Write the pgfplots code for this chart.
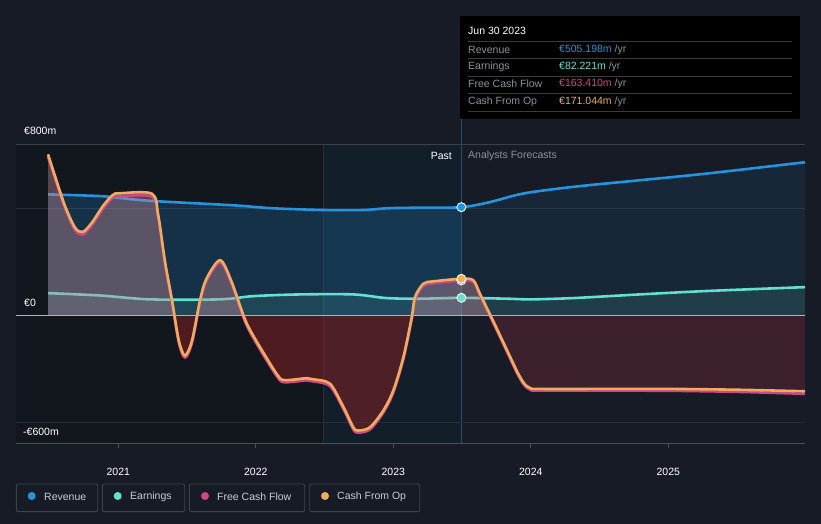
\documentclass[border=0pt]{standalone}
\usepackage{fontspec}
\setmainfont{Liberation Sans}
\usepackage{pgfplots}
\usepackage{pgfplotstable}
\pgfplotsset{compat=1.18}

\definecolor{pagebg}{HTML}{161B25}
\definecolor{pastbg}{HTML}{12161D}
\definecolor{hiblue}{HTML}{1E6AA8}
\definecolor{revblue}{HTML}{2394DF}
\definecolor{earnteal}{HTML}{62E0D0}
\definecolor{fcfpink}{HTML}{D0468A}
\definecolor{cfoorange}{HTML}{EFAC5C}
\definecolor{cashpos}{HTML}{C48A98}
\definecolor{cashneg}{HTML}{8A2024}
\definecolor{cashnegf}{HTML}{7A2A3C}
\definecolor{gridc}{HTML}{272D37}
\definecolor{topline}{HTML}{3B4049}
\definecolor{zeroline}{HTML}{B0B4BA}
\definecolor{axisgrey}{HTML}{4A5059}
\definecolor{ttgrey}{HTML}{8B9099}
\definecolor{sepgrey}{HTML}{3A3A3A}
\definecolor{legborder}{HTML}{3D424B}
\definecolor{legtext}{HTML}{C9CDD3}
\definecolor{divline}{HTML}{2B4D6B}

\newcommand{\fs}{\fontsize{10.5}{12}\selectfont}

% cash from operations, EUR m
\pgfplotstableread{
x y
2020.489 752
2020.54 650
2020.61 515
2020.685 410
2020.743 390
2020.81 435
2020.89 512
2020.96 562
2021.01 570
2021.245 568
2021.29 470
2021.34 250
2021.391 70
2021.44 -117
2021.485 -187
2021.536 -117
2021.594 70
2021.64 170
2021.74 258
2021.82 164
2021.91 0
2021.96 -70
2022.06 -179
2022.16 -280
2022.21 -302
2022.37 -293
2022.42 -298
2022.54 -319
2022.638 -428
2022.709 -522
2022.745 -537
2022.83 -522
2022.927 -444
2023.0 -350
2023.073 -195
2023.134 -8
2023.158 86
2023.218 148
2023.291 159
2023.495 171
2023.582 164
2023.63 101
2023.703 5
2023.776 -93
2023.873 -225
2023.9 -262
2023.94 -307
2023.97 -330
2024.0 -340
2024.06 -343
2024.6 -343
2025.036 -343
2025.521 -347
2025.994 -354
}\cfotab

% free cash flow, EUR m
\pgfplotstableread{
x y
2020.489 740
2020.54 640
2020.61 505
2020.685 398
2020.743 378
2020.81 423
2020.89 500
2020.96 550
2021.01 556
2021.245 554
2021.29 458
2021.34 238
2021.391 58
2021.44 -128
2021.485 -197
2021.536 -128
2021.594 60
2021.64 160
2021.74 248
2021.82 154
2021.91 -10
2021.96 -80
2022.06 -190
2022.16 -290
2022.21 -312
2022.37 -303
2022.42 -308
2022.54 -330
2022.638 -438
2022.709 -532
2022.745 -547
2022.83 -532
2022.927 -454
2023.0 -360
2023.073 -205
2023.134 -18
2023.158 76
2023.218 138
2023.291 150
2023.495 163
2023.582 156
2023.63 93
2023.703 -3
2023.776 -101
2023.873 -233
2023.9 -270
2023.94 -315
2023.97 -338
2024.0 -348
2024.06 -351
2024.6 -351
2025.036 -352
2025.521 -357
2025.994 -366
}\fcftab

\begin{document}
\begin{tikzpicture}
% background, in pixel coordinates (y down)
\begin{scope}[x=1pt,y=-1pt,yshift=524pt]
  \fill[pagebg] (0,0) rectangle (821,524);
  \fill[pastbg] (16,144) rectangle (461,444);
  \fill[hiblue, opacity=0.10] (323,144) rectangle (461,444);
  \draw[gridc, line width=0.8pt] (323,144) -- (323,444);
  \draw[divline, line width=1pt] (461,119) -- (461,444);
\end{scope}

\begin{axis}[
  at={(16pt,80pt)}, anchor=south west,
  width=789pt, height=300pt, scale only axis,
  xmin=2020.256, xmax=2025.994, ymin=-600, ymax=800,
  axis x line=bottom, axis y line=none,
  x axis line style={draw=axisgrey, line width=1pt, -},
  xtick={2021,2022,2023,2024,2025},
  xticklabels={2021,2022,2023,2024,2025},
  tick align=outside, major tick length=4pt,
  xtick style={draw=axisgrey, line width=0.8pt},
  xticklabel style={text=white, font=\fs, yshift=-17pt},
  ytick=\empty,
  clip=false,
]
% gridlines
\draw[topline, line width=1pt] (axis cs:2020.256,800) -- (axis cs:2025.994,800);
\draw[gridc, line width=1pt] (axis cs:2020.256,500) -- (axis cs:2025.994,500);
\draw[gridc, line width=1pt] (axis cs:2020.256,-500) -- (axis cs:2025.994,-500);
\draw[axisgrey, line width=1pt] (axis cs:2020.256,-600) -- (axis cs:2025.994,-600);
\draw[axisgrey, line width=0.8pt] (axis cs:2021,-600) -- (axis cs:2021,-619);
\draw[axisgrey, line width=0.8pt] (axis cs:2022,-600) -- (axis cs:2022,-619);
\draw[axisgrey, line width=0.8pt] (axis cs:2023,-600) -- (axis cs:2023,-619);
\draw[axisgrey, line width=0.8pt] (axis cs:2024,-600) -- (axis cs:2024,-619);
\draw[axisgrey, line width=0.8pt] (axis cs:2025,-600) -- (axis cs:2025,-619);

% revenue fill
\addplot[draw=none, fill=revblue, fill opacity=0.22, smooth] coordinates {
  (2020.489,565) (2020.867,557) (2021.013,548) (2021.252,534) (2021.834,514)
  (2022.125,500) (2022.489,492) (2022.78,492) (2022.955,500) (2023.194,503) (2023.495,505)
} \closedcycle;
\addplot[draw=none, fill=revblue, fill opacity=0.10, smooth] coordinates {
  (2023.495,505) (2023.703,529) (2023.946,569) (2024.307,600) (2024.794,631)
  (2025.279,662) (2025.994,715)
} \closedcycle;
% earnings fill
\addplot[draw=none, fill=earnteal, fill opacity=0.12, smooth] coordinates {
  (2020.489,104) (2020.867,93) (2021.23,75) (2021.74,75) (2021.98,90) (2022.32,98)
  (2022.71,98) (2022.95,81) (2023.19,78) (2023.495,82) (2023.83,78) (2024.0,75)
  (2024.31,81) (2024.79,98) (2025.28,114) (2025.994,132)
} \closedcycle;

% lines revenue, earnings
\addplot[revblue, line width=2.6pt, smooth] coordinates {
  (2020.489,565) (2020.867,557) (2021.013,548) (2021.252,534) (2021.834,514)
  (2022.125,500) (2022.489,492) (2022.78,492) (2022.955,500) (2023.194,503) (2023.495,505)
  (2023.703,529) (2023.946,569) (2024.307,600) (2024.794,631)
  (2025.279,662) (2025.994,715)
};
\addplot[earnteal, line width=2.6pt, smooth] coordinates {
  (2020.489,104) (2020.867,93) (2021.23,75) (2021.74,75) (2021.98,90) (2022.32,98)
  (2022.71,98) (2022.95,81) (2023.19,78) (2023.495,82) (2023.83,78) (2024.0,75)
  (2024.31,81) (2024.79,98) (2025.28,114) (2025.994,132)
};

% cash fills: positive part, negative part (past / forecast)
\begin{scope}
  \clip (axis cs:2020.2,0) rectangle (axis cs:2026.1,820);
  \addplot[draw=none, fill=cashpos, fill opacity=0.40, smooth] table {\cfotab} \closedcycle;
\end{scope}
\begin{scope}
  \clip (axis cs:2020.2,-620) rectangle (axis cs:2023.495,0);
  \addplot[draw=none, fill=cashneg, fill opacity=0.5, smooth] table {\cfotab} \closedcycle;
\end{scope}
\begin{scope}
  \clip (axis cs:2023.495,-620) rectangle (axis cs:2026.1,0);
  \addplot[draw=none, fill=cashnegf, fill opacity=0.38, smooth] table {\cfotab} \closedcycle;
\end{scope}

\addplot[fcfpink, line width=2.6pt, smooth] table {\fcftab};
\addplot[cfoorange, line width=2.6pt, smooth] table {\cfotab};

\draw[zeroline, line width=1.3pt] (axis cs:2020.256,0) -- (axis cs:2025.994,0);

% markers
\addplot[only marks, mark=*, mark size=4.5pt, mark options={fill=revblue, draw=white, line width=0.9pt}] coordinates {(2023.495,505.198)};
\addplot[only marks, mark=*, mark size=4.5pt, mark options={fill=earnteal, draw=white, line width=0.9pt}] coordinates {(2023.495,82.221)};
\addplot[only marks, mark=*, mark size=4.5pt, mark options={fill=fcfpink, draw=white, line width=0.9pt}] coordinates {(2023.495,163.41)};
\addplot[only marks, mark=*, mark size=4.5pt, mark options={fill=cfoorange, draw=white, line width=0.9pt}] coordinates {(2023.495,171.044)};
\end{axis}

% overlays in pixel coordinates
\begin{scope}[x=1pt,y=-1pt,yshift=524pt]
  % y labels
  \node[anchor=west, text=white, font=\fs, inner sep=0] at (24,131) {€800m};
  \node[anchor=west, text=white, font=\fs, inner sep=0] at (24,303) {€0};
  \node[anchor=west, text=white, font=\fs, inner sep=0] at (23,432) {-€600m};
  % past / forecast
  \node[anchor=east, text=white, font=\fs, inner sep=0] at (452,156) {Past};
  \node[anchor=west, text=ttgrey, font=\fs, inner sep=0] at (468,156) {Analysts Forecasts};
  % tooltip
  \fill[black] (460,16) rectangle (800,119);
  \node[anchor=west, text=white, font=\fs, inner sep=0] at (468,31) {Jun 30 2023};
  \foreach \yy in {41.7,58.3,76.3,93.3,111} {
    \draw[sepgrey, line width=0.8pt] (468,\yy) -- (792,\yy);
  }
  \node[anchor=west, text=ttgrey, font=\fs, inner sep=0] at (468,49.5) {Revenue};
  \node[anchor=west, text=ttgrey, font=\fs, inner sep=0] at (468,66.5) {Earnings};
  \node[anchor=west, text=ttgrey, font=\fs, inner sep=0] at (468,84) {Free Cash Flow};
  \node[anchor=west, text=ttgrey, font=\fs, inner sep=0] at (468,101.5) {Cash From Op};
  \node[anchor=west, font=\fs, inner sep=0] at (559,49.5) {\textcolor{revblue}{€505.198m} \textcolor{ttgrey}{/yr}};
  \node[anchor=west, font=\fs, inner sep=0] at (559,66.5) {\textcolor{earnteal}{€82.221m} \textcolor{ttgrey}{/yr}};
  \node[anchor=west, font=\fs, inner sep=0] at (559,84) {\textcolor{fcfpink}{€163.410m} \textcolor{ttgrey}{/yr}};
  \node[anchor=west, font=\fs, inner sep=0] at (559,101.5) {\textcolor{cfoorange}{€171.044m} \textcolor{ttgrey}{/yr}};
  % legend
  \draw[legborder, line width=0.9pt, rounded corners=2pt] (16.3,484) rectangle (97.7,511.7);
  \draw[legborder, line width=0.9pt, rounded corners=2pt] (102.3,484) rectangle (184.7,511.7);
  \draw[legborder, line width=0.9pt, rounded corners=2pt] (189.3,484) rectangle (304.7,511.7);
  \draw[legborder, line width=0.9pt, rounded corners=2pt] (309.7,484) rectangle (419.7,511.7);
  \fill[revblue] (31.7,496) circle (4pt);
  \fill[earnteal] (117.7,496) circle (4pt);
  \fill[fcfpink] (205,496) circle (4pt);
  \fill[cfoorange] (325,496) circle (4pt);
  \node[anchor=west, text=legtext, font=\fs, inner sep=0] at (44,496.5) {Revenue};
  \node[anchor=west, text=legtext, font=\fs, inner sep=0] at (130,496.5) {Earnings};
  \node[anchor=west, text=legtext, font=\fs, inner sep=0] at (217,496.5) {Free Cash Flow};
  \node[anchor=west, text=legtext, font=\fs, inner sep=0] at (337,496.5) {Cash From Op};
\end{scope}
\end{tikzpicture}
\end{document}
